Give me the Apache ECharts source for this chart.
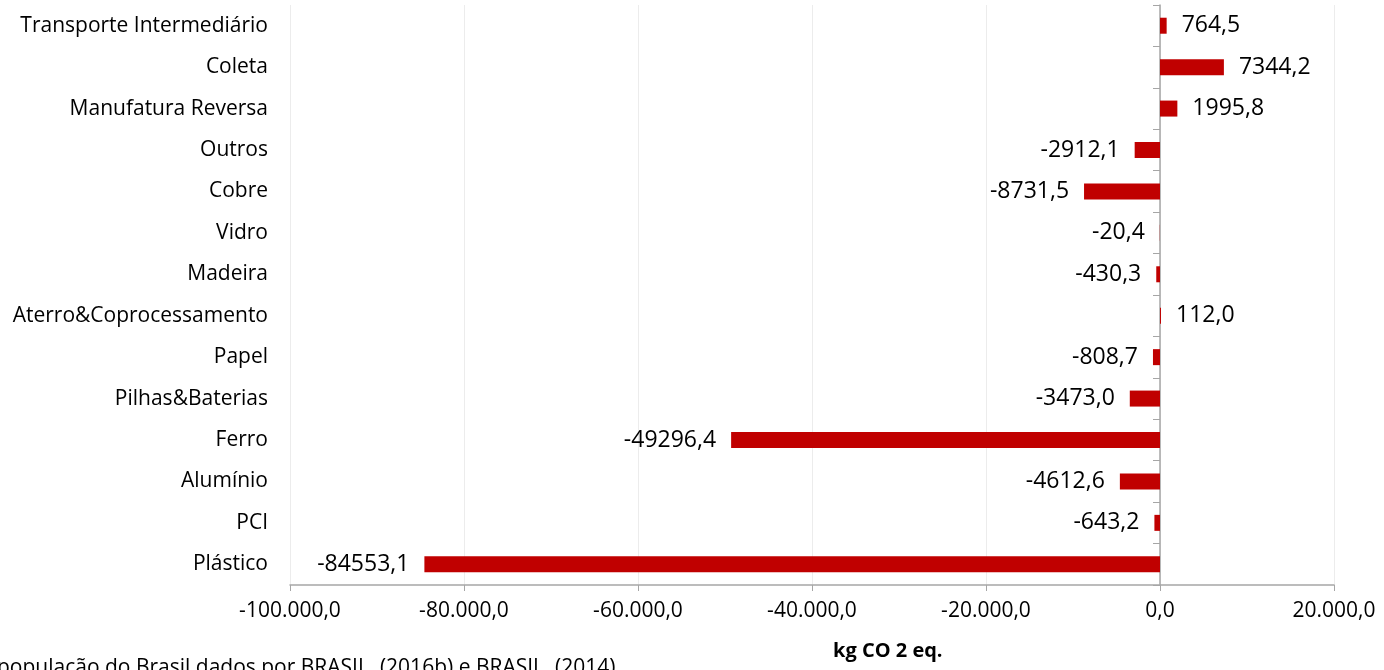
<!DOCTYPE html>
<html>
<head>
<meta charset="utf-8">
<script src="https://cdn.jsdelivr.net/npm/echarts@6/dist/echarts.min.js"></script>
<style>
  html, body { margin: 0; padding: 0; background: #fff; overflow: hidden; }
  #chart { width: 1384px; height: 670px; }
</style>
</head>
<body>
<div id="chart"></div>
<script>
// categorias (de baixo para cima)
var categorias = ['Plástico', 'PCI', 'Alumínio', 'Ferro', 'Pilhas&Baterias', 'Papel',
  'Aterro&Coprocessamento', 'Madeira', 'Vidro', 'Cobre', 'Outros',
  'Manufatura Reversa', 'Coleta', 'Transporte Intermediário'];
var valores = [-84553.1, -643.2, -4612.6, -49296.4, -3473.0, -808.7,
  112.0, -430.3, -20.4, -8731.5, -2912.1, 1995.8, 7344.2, 764.5];
var eixoX = { min: -100000, max: 20000, intervalo: 20000 };

var fonte = '"Open Sans", Lato, sans-serif';

function fmtEixo(v) {
  var neg = v < 0;
  var s = Math.abs(v).toFixed(0).replace(/\B(?=(\d{3})+(?!\d))/g, '.');
  return (neg ? '-' : '') + s + ',0';
}
function fmtValor(v) {
  return v.toFixed(1).replace('.', ',');
}

var dados = valores.map(function (v) {
  return {
    value: v,
    label: { position: v >= 0 ? 'right' : 'left' }
  };
});

var chart = echarts.init(document.getElementById('chart'));
var option = {
  animation: false,
  textStyle: { fontFamily: fonte },
  grid: { left: 290, right: 50, top: 5, bottom: 85 },
  xAxis: {
    type: 'value',
    min: eixoX.min,
    max: eixoX.max,
    interval: eixoX.intervalo,
    axisLine: { show: true, lineStyle: { color: '#a6a6a6', width: 1.5 } },
    axisTick: { show: true, length: 6, lineStyle: { color: '#a6a6a6' } },
    axisLabel: { formatter: fmtEixo, color: '#000', fontSize: 21, margin: 16, fontFamily: fonte },
    splitLine: { show: true, lineStyle: { color: '#ececec' } }
  },
  yAxis: [{
    type: 'category',
    data: categorias,
    axisLine: { show: false, onZero: false },
    axisTick: { show: false },
    axisLabel: { color: '#000', fontSize: 21, margin: 22, fontFamily: fonte }
  }, {
    type: 'category',
    data: categorias,
    position: 'left',
    axisLine: { show: true, onZero: true, lineStyle: { color: '#a6a6a6', width: 1.5 } },
    axisTick: { show: true, length: 7, lineStyle: { color: '#a6a6a6' } },
    axisLabel: { show: false }
  }],
  series: [{
    type: 'bar',
    data: dados,
    barWidth: 16,
    itemStyle: { color: '#c00000' },
    label: {
      show: true,
      distance: 15,
      color: '#000',
      fontSize: 23,
      fontFamily: fonte,
      formatter: function (p) { return fmtValor(p.value); }
    }
  }],
  graphic: [{
    type: 'text',
    left: 833,
    top: 641,
    style: { text: 'kg CO 2 eq.', font: 'bold 20px ' + fonte, fill: '#000' }
  }, {
    type: 'text',
    left: -3,
    top: 658,
    style: { text: 'população do Brasil dados por BRASIL. (2016b) e BRASIL. (2014)', font: '21px ' + fonte, fill: '#000' }
  }]
};
chart.setOption(option);
window.addEventListener('resize', function () { chart.resize(); });
</script>
</body>
</html>
